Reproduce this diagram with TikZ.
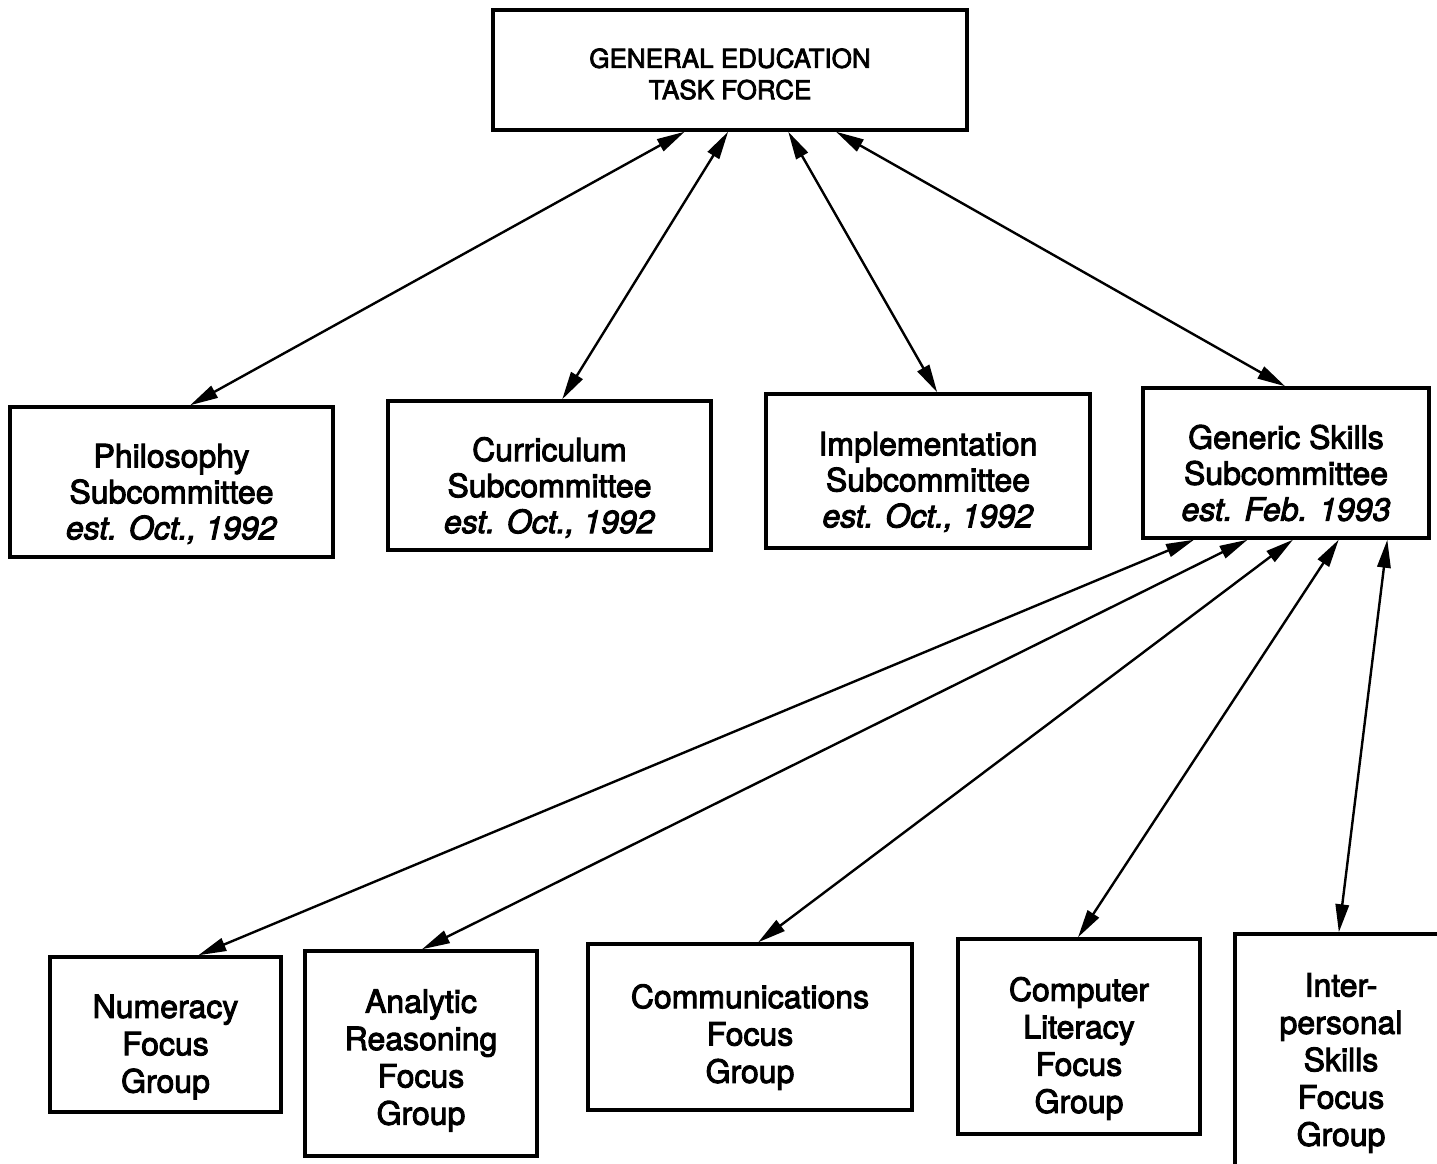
\documentclass[tikz,border=0pt]{standalone}
\usepackage{fontspec}
\setmainfont{TeX Gyre Heros}[FakeBold=3]
\usetikzlibrary{arrows.meta,calc}

\tikzset{every picture/.style={line width=0.75pt}}
\tikzset{
  unitbox/.style={draw, line width=2.6pt, inner sep=0pt},
  boxtext/.style={align=center, inner sep=0pt, font=\fontsize{24}{27}\selectfont},
  grouptext/.style={boxtext, font=\fontsize{24}{28}\selectfont},
  dims/.style 2 args={minimum width=#1*0.75pt, minimum height=#2*0.75pt},
  link/.style={line width=1.8pt, {Triangle[length=21pt,width=10pt]}-{Triangle[length=21pt,width=10pt]}},
}

\begin{document}
\begin{tikzpicture}[x=0.75pt,y=0.75pt,yscale=-1,xscale=1]
\useasboundingbox (0,0) rectangle (1437,1163);

% Task force
\node [unitbox, dims={474}{120}] (taskforce) at (730,70) {};
\draw (730,74) node [boxtext, font=\fontsize{19.5}{23.5}\selectfont] (taskforcetext) {GENERAL EDUCATION\\TASK FORCE};

% Subcommittees
\node [unitbox, dims={323}{150}] (philosophy) at (171.5,482) {};
\node [unitbox, dims={323}{149}] (curriculum) at (549.5,475.5) {};
\node [unitbox, dims={324}{154}] (implementation) at (928,471) {};
\node [unitbox, dims={286}{150}] (generic) at (1286,463) {};
% Text Node
\draw (171.5,494) node [boxtext] (philosophytext) {Philosophy\\Subcommittee\\\textit{est. Oct., 1992}};
\draw (549.5,487.5) node [boxtext] (curriculumtext) {Curriculum\\Subcommittee\\\textit{est. Oct., 1992}};
\draw (928,482) node [boxtext] (implementationtext) {Implementation\\Subcommittee\\\textit{est. Oct., 1992}};
\draw (1286,473) node [boxtext] (generictext) {Generic Skills\\Subcommittee\\\textit{est. Feb. 1993}};

% Focus groups
\node [unitbox, dims={231}{155}] (numeracy) at (165.5,1034.5) {};
\node [unitbox, dims={232}{205}] (analytic) at (421,1053.5) {};
\node [unitbox, dims={324}{166}] (communications) at (750,1027) {};
\node [unitbox, dims={242}{195}] (computer) at (1079,1036.5) {};
\node [unitbox, dims={212}{252}] (interpersonal) at (1341,1060) {};
% Text Node
\draw (165.5,1047) node [grouptext] (numeracytext) {Numeracy\\Focus\\Group};
\draw (421,1060.5) node [grouptext] (analytictext) {Analytic\\Reasoning\\Focus\\Group};
\draw (750,1037) node [grouptext] (communicationstext) {Communications\\Focus\\Group};
\draw (1079,1048.5) node [grouptext] (computertext) {Computer\\Literacy\\Focus\\Group};
\draw (1341,1063) node [grouptext] (interpersonaltext) {Inter-\\personal\\Skills\\Focus\\Group};

% Task force -- subcommittees
\draw [link] ($(taskforce.south west)!0.405!(taskforce.south east)$) -- ($(philosophy.north west)!0.557!(philosophy.north east)$);
\draw [link] ($(taskforce.south west)!0.496!(taskforce.south east)$) -- ($(curriculum.north west)!0.539!(curriculum.north east)$);
\draw [link] ($(taskforce.south west)!0.622!(taskforce.south east)$) -- ($(implementation.north west)!0.528!(implementation.north east)$);
\draw [link] ($(taskforce.south west)!0.722!(taskforce.south east)$) -- ($(generic.north west)!0.497!(generic.north east)$);

% Generic skills -- focus groups
\draw [link] ($(generic.south west)!0.182!(generic.south east)$) -- ($(numeracy.north west)!0.64!(numeracy.north east)$);
\draw [link] ($(generic.south west)!0.367!(generic.south east)$) -- ($(analytic.north west)!0.504!(analytic.north east)$);
\draw [link] ($(generic.south west)!0.524!(generic.south east)$) -- ($(communications.north west)!0.525!(communications.north east)$);
\draw [link] ($(generic.south west)!0.682!(generic.south east)$) -- ($(computer.north west)!0.496!(computer.north east)$);
\draw [link] ($(generic.south west)!0.85!(generic.south east)$) -- ($(interpersonal.north west)!0.49!(interpersonal.north east)$);

\end{tikzpicture}
\end{document}
